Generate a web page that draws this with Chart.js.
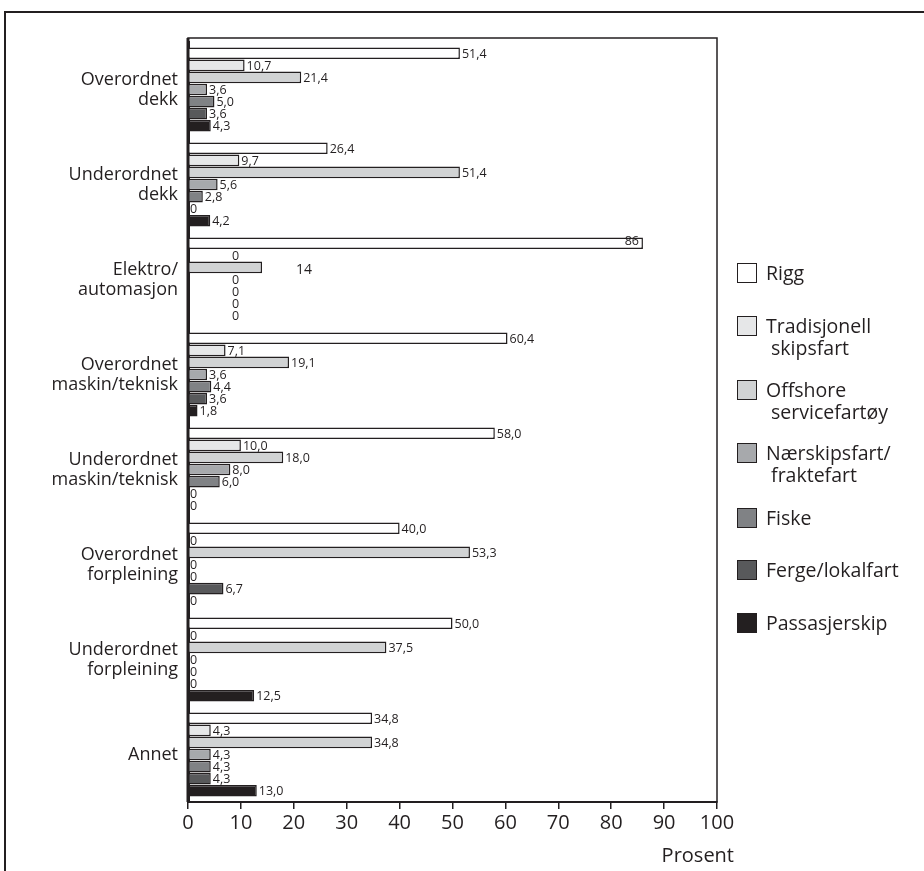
<!DOCTYPE html>
<html>
<head>
<meta charset="utf-8">
<script src="https://cdn.jsdelivr.net/npm/chart.js@4"></script>
<style>
  body { margin: 0; background: #fff; font-family: "Open Sans", sans-serif; color: #231f20; }
  #wrap { position: relative; width: 924px; height: 871px; }
  .leg { position: absolute; left: 737px; font-size: 19.5px; line-height: 22px; }
  .leg .box { position: absolute; left: 0; top: 1px; width: 18px; height: 18px; border: 1.5px solid #231f20; }
  .leg .txt { position: absolute; left: 29px; top: 0; white-space: nowrap; }
</style>
</head>
<body>
<div id="wrap">
  <canvas id="chart"></canvas>
</div>
<script>
// Categories (y axis), top to bottom
const categories = [
    ['Overordnet', 'dekk'],
    ['Underordnet', 'dekk'],
    ['Elektro/', 'automasjon'],
    ['Overordnet', 'maskin/teknisk'],
    ['Underordnet', 'maskin/teknisk'],
    ['Overordnet', 'forpleining'],
    ['Underordnet', 'forpleining'],
    ['Annet']
];
// decimals shown in value labels per category
const labelDecimals = [1, 1, 0, 1, 1, 1, 1, 1];

const xTicks = [0, 10, 20, 30, 40, 50, 60, 70, 80, 90, 100];

// Series (percent)
const rigg         = [51.4, 26.4, 86, 60.4, 58.0, 40.0, 50.0, 34.8];
const tradisjonell = [10.7, 9.7, 0, 7.1, 10.0, 0, 0, 4.3];
const offshore     = [21.4, 51.4, 14, 19.1, 18.0, 53.3, 37.5, 34.8];
const naerskip     = [3.6, 5.6, 0, 3.6, 8.0, 0, 0, 4.3];
const fiske        = [5.0, 2.8, 0, 4.4, 6.0, 0, 0, 4.3];
const ferge        = [3.6, 0, 0, 3.6, 0, 6.7, 0, 4.3];
const passasjer    = [4.3, 4.2, 0, 1.8, 0, 0, 12.5, 13.0];

const seriesNames = [
    ['Rigg'],
    ['Tradisjonell', 'skipsfart'],
    ['Offshore', 'servicefartøy'],
    ['Nærskipsfart/', 'fraktefart'],
    ['Fiske'],
    ['Ferge/lokalfart'],
    ['Passasjerskip']
];
const seriesData = [rigg, tradisjonell, offshore, naerskip, fiske, ferge, passasjer];
const seriesColors = ['#ffffff', '#e6e7e8', '#d1d3d4', '#a7a9ac', '#808285', '#58595b', '#231f20'];
const legendTops = [262, 315, 379, 442, 507, 559, 612];

const ink = '#231f20';

// HTML legend
const wrap = document.getElementById('wrap');
seriesNames.forEach((lines, i) => {
    const item = document.createElement('div');
    item.className = 'leg';
    item.style.top = legendTops[i] + 'px';
    item.innerHTML = `<div class="box" style="background:${seriesColors[i]}"></div>` +
        `<div class="txt">${lines.map((l, k) => k ? '&nbsp;' + l : l).join('<br>')}</div>`;
    wrap.appendChild(item);
});

// Frame, plot box, value labels, axis title
const decorations = {
    id: 'decorations',
    beforeDraw(chart) {
        const ctx = chart.ctx;
        ctx.save();
        ctx.strokeStyle = ink;
        ctx.lineWidth = 2;
        ctx.beginPath();
        ctx.moveTo(5, chart.height);
        ctx.lineTo(5, 12);
        ctx.lineTo(chart.width, 12);
        ctx.stroke();
        ctx.restore();
    },
    afterDatasetsDraw(chart) {
        const ctx = chart.ctx;
        const xs = chart.scales.x;
        ctx.save();
        ctx.fillStyle = ink;
        ctx.textBaseline = 'middle';
        chart.data.datasets.forEach((ds, di) => {
            const meta = chart.getDatasetMeta(di);
            meta.data.forEach((bar, i) => {
                const v = ds.data[i];
                const txt = v === 0 ? '0' : v.toFixed(labelDecimals[i]).replace('.', ',');
                ctx.font = '12.5px "Open Sans"';
                ctx.textAlign = 'left';
                let x = bar.x + 2;
                let y = bar.y + 1;
                if (i === 2) {
                    if (v === 0) {
                        ctx.textAlign = 'center';
                        x = xs.getPixelForValue(9);
                    } else if (di === 0) {
                        ctx.textAlign = 'right';
                        x = bar.x - 4;
                        y = bar.y - 2;
                    } else {
                        ctx.font = '14px "Open Sans"';
                        x = bar.x + 34;
                        y = bar.y + 3;
                    }
                }
                ctx.fillText(txt, x, y);
            });
        });
        ctx.restore();
    },
    afterDraw(chart) {
        const ctx = chart.ctx;
        const a = chart.chartArea;
        const top = a.top - 4;
        ctx.save();
        ctx.strokeStyle = ink;
        ctx.lineWidth = 1.5;
        ctx.strokeRect(a.left, top, a.right - a.left, a.bottom - top);
        ctx.lineWidth = 3;
        ctx.beginPath();
        ctx.moveTo(a.left, top);
        ctx.lineTo(a.left, a.bottom);
        ctx.stroke();
        ctx.fillStyle = ink;
        ctx.font = '20px "Open Sans"';
        ctx.textAlign = 'right';
        ctx.textBaseline = 'middle';
        ctx.fillText('Prosent', a.right + 17, 856);
        ctx.restore();
    }
};

const ctx = document.getElementById('chart').getContext('2d');
new Chart(ctx, {
    type: 'bar',
    data: {
        labels: categories,
        datasets: seriesData.map((d, i) => ({
            label: seriesNames[i].join(' '),
            data: d,
            backgroundColor: seriesColors[i],
            borderColor: ink,
            borderWidth: 1.5,
            borderSkipped: 'start',
            categoryPercentage: 0.89,
            barPercentage: 0.96
        }))
    },
    options: {
        indexAxis: 'y',
        responsive: true,
        maintainAspectRatio: false,
        animation: false,
        layout: { padding: { top: 42, right: 207, left: 0, bottom: 0 } },
        plugins: {
            legend: { display: false },
            tooltip: { enabled: false }
        },
        scales: {
            x: {
                min: 0,
                max: 100,
                afterFit(s) { s.height = 69; },
                afterBuildTicks(s) { s.ticks = xTicks.map(v => ({ value: v })); },
                grid: { display: true, drawOnChartArea: false, drawTicks: true, tickLength: 7, color: ink, lineWidth: 1.5 },
                border: { display: true, color: ink, width: 2 },
                ticks: { color: ink, font: { family: 'Open Sans', size: 20 }, padding: 2, maxRotation: 0 }
            },
            y: {
                afterFit(s) { s.width = 188; },
                grid: { display: false },
                border: { display: true, color: ink, width: 3 },
                ticks: { color: ink, font: { family: 'Open Sans', size: 18, lineHeight: 1.1 }, padding: 2 }
            }
        }
    },
    plugins: [decorations]
});
</script>
</body>
</html>
